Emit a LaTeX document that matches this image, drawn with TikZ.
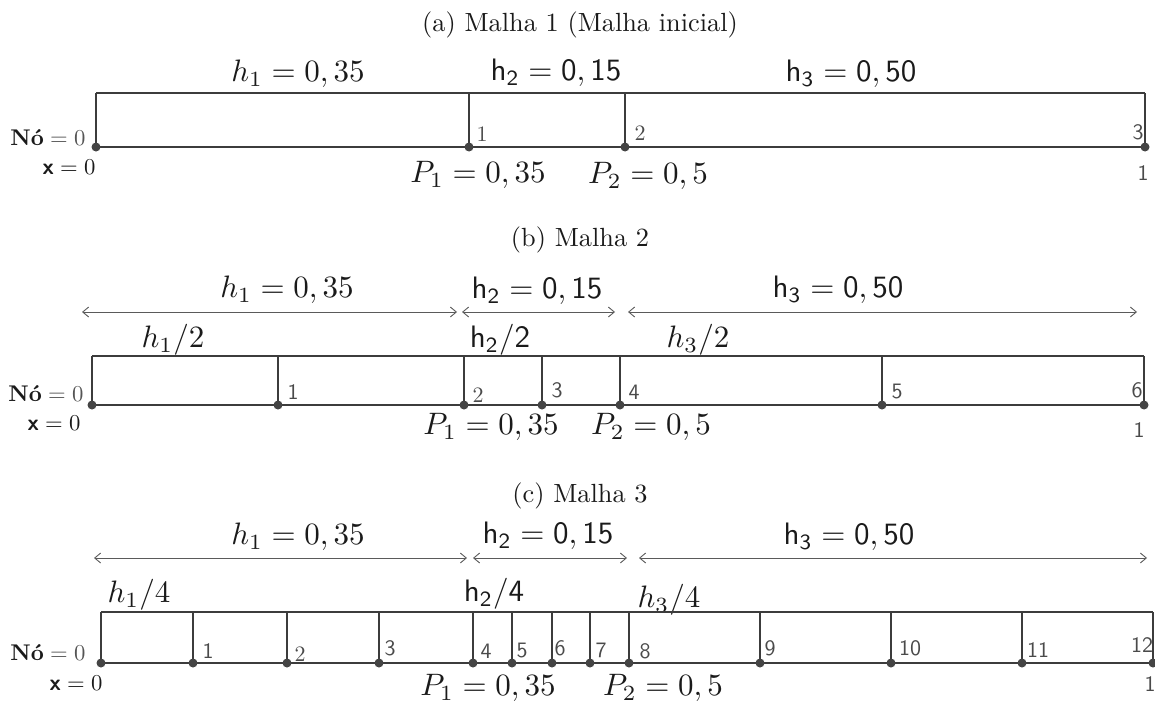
\documentclass[tikz,border=0pt]{standalone}
\usepackage{amsmath,amssymb}
\usepackage{xcolor}
\usepackage{tikz}
\usetikzlibrary{arrows.meta}

\definecolor{texto}{HTML}{1A1A1A}
\definecolor{linha}{HTML}{3C3C3C}
\definecolor{pontocor}{HTML}{444444}
\definecolor{numcor}{HTML}{4A4A4A}
\definecolor{setacor}{HTML}{5A5A5A}
\definecolor{cinza}{HTML}{555555}

\begin{document}
\begin{tikzpicture}[x=1pt, y=-1pt,
    malha/.style={draw=linha, line width=1.3pt},
    ponto/.style={circle, fill=pontocor, inner sep=0pt, minimum size=9pt},
    num/.style={font=\sffamily, text=numcor, inner sep=0pt, scale=2.2},
    numrm/.style={font=\rmfamily, text=numcor, inner sep=0pt, scale=2.2},
    rotulo/.style={text=texto, inner sep=0pt, scale=3.1},
    titulo/.style={text=texto, inner sep=0pt, scale=2.63},
    esq/.style={text=texto, inner sep=0pt, anchor=east, scale=2.27},
    seta/.style={{Straight Barb[length=6pt,width=10pt]}-{Straight Barb[length=6pt,width=10pt]}, draw=setacor, line width=0.9pt}
]
\useasboundingbox (0,0) rectangle (1155,704);

% (a) Malha 1
\node[titulo] (tita) at (580,25) {(a) Malha 1 (Malha inicial)};
\foreach \i/\x in {0/96,1/469,2/625,3/1145} {
  \coordinate (ab\i) at (\x,147);
  \coordinate (at\i) at (\x,93);
}
\draw[malha] (at0) -- (at3);
\draw[malha] (ab0) -- (ab3);
\foreach \i in {0,...,3} \draw[malha] (at\i) -- (ab\i);
\foreach \i in {0,...,3} \node[ponto] (pa\i) at (ab\i) {};
\node[numrm] (na1) at (482,134) {1};
\node[numrm] (na2) at (640,133) {2};
\node[num] (na3) at (1138,132) {3};
\node[num] (fima) at (1143,173) {1};
\node[rotulo] (h1a) at (298,74) {$h_1=0,35$};
\node[rotulo] (h2a) at (556,73) {$\mathsf{h_2=0,15}$};
\node[rotulo] (h3a) at (851,74) {$\mathsf{h_3=0,50}$};
\node[rotulo] (p1a) at (478,175) {$P_1=0,35$};
\node[rotulo] (p2a) at (648,176) {$P_2=0,5$};
\node[esq] (noa) at (86,138) {\textbf{Nó}{\color{cinza}${}=0$}};
\node[esq] (xa) at (96,167) {$\textbf{\textsf{x}}=0$};

% (b) Malha 2
\node[titulo] (titb) at (580,240) {(b) Malha 2};
\coordinate (b1e) at (82,312);
\coordinate (b1d) at (457,312);
\coordinate (b2e) at (462,312);
\coordinate (b2d) at (615,312);
\coordinate (b3e) at (628,312);
\coordinate (b3d) at (1137,312);
\draw[seta] (b1e) -- (b1d);
\draw[seta] (b2e) -- (b2d);
\draw[seta] (b3e) -- (b3d);
\node[rotulo] (h1b) at (287,290) {$h_1=0,35$};
\node[rotulo] (h2b) at (537,291) {$\mathsf{h_2=0,15}$};
\node[rotulo] (h3b) at (838,290) {$\mathsf{h_3=0,50}$};
\node[rotulo] (s1b) at (173,340) {$h_1/2$};
\node[rotulo] (s2b) at (500,340) {$\mathsf{h_2/2}$};
\node[rotulo] (s3b) at (698,340) {$h_3/2$};
\foreach \i/\x in {0/92,1/278,2/464,3/542,4/620,5/882,6/1144} {
  \coordinate (bb\i) at (\x,405);
  \coordinate (bt\i) at (\x,356);
}
\draw[malha] (bt0) -- (bt6);
\draw[malha] (bb0) -- (bb6);
\foreach \i in {0,...,6} \draw[malha] (bt\i) -- (bb\i);
\foreach \i in {0,...,6} \node[ponto] (pb\i) at (bb\i) {};
\foreach \i/\x/\y in {1/293/392,3/557/390,4/634/392,5/897/392,6/1137/390}
  \node[num] (nb\i) at (\x,\y) {\i};
\node[numrm] (nb2) at (478,395) {2};
\node[num] (fimb) at (1139,430) {1};
\node[rotulo] (p1b) at (491,427) {$P_1=0,35$};
\node[rotulo] (p2b) at (651,427) {$P_2=0,5$};
\node[esq] (nob) at (84,394) {\textbf{Nó}{\color{cinza}${}=0$}};
\node[esq] (xb) at (81,423) {$\textbf{\textsf{x}}=0$};

% (c) Malha 3
\node[titulo] (titc) at (580,496) {(c) Malha 3};
\coordinate (c1e) at (94,558);
\coordinate (c1d) at (467,558);
\coordinate (c2e) at (473,558);
\coordinate (c2d) at (627,558);
\coordinate (c3e) at (639,558);
\coordinate (c3d) at (1147,558);
\draw[seta] (c1e) -- (c1d);
\draw[seta] (c2e) -- (c2d);
\draw[seta] (c3e) -- (c3d);
\node[rotulo] (h1c) at (298,537) {$h_1=0,35$};
\node[rotulo] (h2c) at (548,536) {$\mathsf{h_2=0,15}$};
\node[rotulo] (h3c) at (849,537) {$\mathsf{h_3=0,50}$};
\node[rotulo] (s1c) at (139,595) {$h_1/4$};
\node[rotulo] (s2c) at (494,594) {$\mathsf{h_2/4}$};
\node[rotulo] (s3c) at (669,600) {$h_3/4$};
\foreach \i/\x in {0/101,1/193,2/287,3/379,4/473,5/512,6/552,7/590,8/629,9/760,10/891,11/1022,12/1153} {
  \coordinate (cb\i) at (\x,663);
  \coordinate (ct\i) at (\x,612);
}
\draw[malha] (ct0) -- (ct12);
\draw[malha] (cb0) -- (cb12);
\foreach \i in {0,...,12} \draw[malha] (ct\i) -- (cb\i);
\foreach \i in {0,...,12} \node[ponto] (pc\i) at (cb\i) {};
\foreach \i/\x/\y in {1/208/651,3/390/648,4/486/651,5/522/651,6/560/648,7/601/650,8/645/651,9/770/648,10/910/648,11/1038/650,12/1142/645}
  \node[num] (nc\i) at (\x,\y) {\i};
\node[numrm] (nc2) at (300,654) {2};
\node[num] (fimc) at (1150,684) {1};
\node[rotulo] (p1c) at (488,688) {$P_1=0,35$};
\node[rotulo] (p2c) at (663,688) {$P_2=0,5$};
\node[esq] (noc) at (86,653) {\textbf{Nó}{\color{cinza}${}=0$}};
\node[esq] (xc) at (103,683) {$\textbf{\textsf{x}}=0$};
\end{tikzpicture}
\end{document}
